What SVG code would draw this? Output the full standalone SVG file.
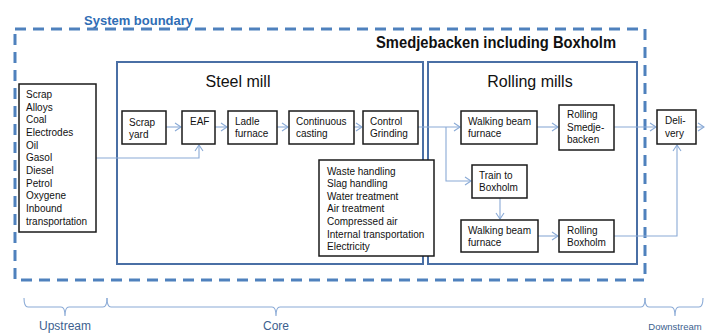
<svg xmlns="http://www.w3.org/2000/svg" width="713" height="333" viewBox="0 0 713 333">
<defs>
<style>
text{font-family:"Liberation Sans",Arial,sans-serif;fill:#111}
.t{font-size:10px}
.box{fill:#fff;stroke:#1a1a1a;stroke-width:1.5}
.area{fill:none;stroke:#4a6fa5;stroke-width:2}
.con{fill:none;stroke:#8aaad6;stroke-width:1.1}
.brace{fill:none;stroke:#8aaad6;stroke-width:1.1}
.lbl{fill:#3d5f8f}
</style>
<marker id="ah" markerWidth="8" markerHeight="10" refX="7" refY="5" orient="auto" markerUnits="userSpaceOnUse">
<path d="M1,1 L7,5 L1,9" fill="none" stroke="#8aaad6" stroke-width="1.1"/>
</marker>
</defs>
<rect width="713" height="333" fill="#fff"/>

<g id="system-boundary">
<rect x="15" y="29" width="630" height="251" fill="none" stroke="#4f81bd" stroke-width="3" stroke-dasharray="11 7"/>
<text x="84" y="25" style="font-size:13px;font-weight:bold;fill:#2f6db5">System boundary</text>
<text x="376" y="48" textLength="240" lengthAdjust="spacingAndGlyphs" style="font-size:16px;font-weight:bold">Smedjebacken including Boxholm</text>
</g>

<g id="steel-mill">
<rect class="area" x="117" y="62" width="306" height="202"/>
<text x="238" y="87" text-anchor="middle" style="font-size:16px">Steel mill</text>
</g>
<g id="rolling-mills">
<rect class="area" x="428" y="62" width="209" height="202"/>
<text x="530" y="87" text-anchor="middle" style="font-size:16px">Rolling mills</text>
</g>

<g id="connectors">
<line class="con" x1="166" y1="127" x2="181" y2="127" marker-end="url(#ah)"/>
<line class="con" x1="215" y1="127" x2="227" y2="127" marker-end="url(#ah)"/>
<line class="con" x1="277" y1="127" x2="288" y2="127" marker-end="url(#ah)"/>
<line class="con" x1="354" y1="127" x2="362" y2="127" marker-end="url(#ah)"/>
<polyline class="con" points="96,158 199,158 199,145" marker-end="url(#ah)"/>
<line class="con" x1="418" y1="127" x2="460" y2="127" marker-end="url(#ah)"/>
<polyline class="con" points="446,127 446,181 471,181" marker-end="url(#ah)"/>
<line class="con" x1="500" y1="198" x2="500" y2="219" marker-end="url(#ah)"/>
<line class="con" x1="537" y1="127" x2="558" y2="127" marker-end="url(#ah)"/>
<line class="con" x1="538" y1="236" x2="558" y2="236" marker-end="url(#ah)"/>
<line class="con" x1="614" y1="127" x2="656" y2="127" marker-end="url(#ah)"/>
<polyline class="con" points="614,236 677,236 677,145" marker-end="url(#ah)"/>
<line class="con" x1="696" y1="127" x2="704" y2="127" marker-end="url(#ah)"/>
</g>

<g id="inputs">
<rect class="box" x="19" y="84" width="77" height="148"/>
<text class="t" x="26" y="98">Scrap</text>
<text class="t" x="26" y="111">Alloys</text>
<text class="t" x="26" y="123">Coal</text>
<text class="t" x="26" y="136">Electrodes</text>
<text class="t" x="26" y="149">Oil</text>
<text class="t" x="26" y="161">Gasol</text>
<text class="t" x="26" y="174">Diesel</text>
<text class="t" x="26" y="187">Petrol</text>
<text class="t" x="26" y="199">Oxygene</text>
<text class="t" x="26" y="212">Inbound</text>
<text class="t" x="26" y="225">transportation</text>
</g>

<g id="scrap-yard">
<rect class="box" x="122" y="111" width="44" height="33"/>
<text class="t" x="129" y="126">Scrap</text>
<text class="t" x="129" y="138">yard</text>
</g>
<g id="eaf">
<rect class="box" x="182" y="111" width="33" height="33"/>
<text class="t" x="190" y="125">EAF</text>
</g>
<g id="ladle-furnace">
<rect class="box" x="228" y="111" width="49" height="33"/>
<text class="t" x="235" y="125">Ladle</text>
<text class="t" x="235" y="137">furnace</text>
</g>
<g id="continuous-casting">
<rect class="box" x="289" y="111" width="65" height="33"/>
<text class="t" x="296" y="125">Continuous</text>
<text class="t" x="296" y="137">casting</text>
</g>
<g id="control-grinding">
<rect class="box" x="363" y="111" width="55" height="33"/>
<text class="t" x="370" y="125">Control</text>
<text class="t" x="370" y="137">Grinding</text>
</g>
<g id="support">
<rect class="box" x="319" y="160" width="115" height="96"/>
<text class="t" x="327" y="175">Waste handling</text>
<text class="t" x="327" y="187">Slag handling</text>
<text class="t" x="327" y="200">Water treatment</text>
<text class="t" x="327" y="212">Air treatment</text>
<text class="t" x="327" y="225">Compressed air</text>
<text class="t" x="327" y="238">Internal transportation</text>
<text class="t" x="327" y="250">Electricity</text>
</g>

<g id="walking-beam-1">
<rect class="box" x="461" y="111" width="76" height="33"/>
<text class="t" x="468" y="125">Walking beam</text>
<text class="t" x="468" y="137">furnace</text>
</g>
<g id="rolling-smedjebacken">
<rect class="box" x="559" y="105" width="55" height="45"/>
<text class="t" x="567" y="118">Rolling</text>
<text class="t" x="567" y="131">Smedje-</text>
<text class="t" x="567" y="143">backen</text>
</g>
<g id="train">
<rect class="box" x="472" y="165" width="55" height="33"/>
<text class="t" x="479" y="179">Train to</text>
<text class="t" x="479" y="191">Boxholm</text>
</g>
<g id="walking-beam-2">
<rect class="box" x="461" y="220" width="77" height="32"/>
<text class="t" x="468" y="234">Walking beam</text>
<text class="t" x="468" y="246">furnace</text>
</g>
<g id="rolling-boxholm">
<rect class="box" x="559" y="220" width="55" height="32"/>
<text class="t" x="567" y="234">Rolling</text>
<text class="t" x="567" y="246">Boxholm</text>
</g>
<g id="delivery">
<rect class="box" x="657" y="110" width="39" height="34"/>
<text class="t" x="665" y="124">Deli-</text>
<text class="t" x="665" y="137">very</text>
</g>

<g id="scope">
<path class="brace" d="M24,298 Q24,307 28,307 L61,307 Q65,307 65,316 Q65,307 69,307 L103,307 Q107,307 107,298"/>
<path class="brace" d="M107,298 Q107,307 111,307 L272,307 Q276,307 276,316 Q276,307 280,307 L641,307 Q645,307 645,298"/>
<path class="brace" d="M645,298 Q645,307 649,307 L671,307 Q675,307 675,316 Q675,307 679,307 L699,307 Q703,307 703,298"/>
<text class="lbl" x="65" y="329.5" text-anchor="middle" style="font-size:12px">Upstream</text>
<text class="lbl" x="276" y="329.5" text-anchor="middle" style="font-size:12px">Core</text>
<text class="lbl" x="675" y="330" text-anchor="middle" style="font-size:9.5px">Downstream</text>
</g>
</svg>
